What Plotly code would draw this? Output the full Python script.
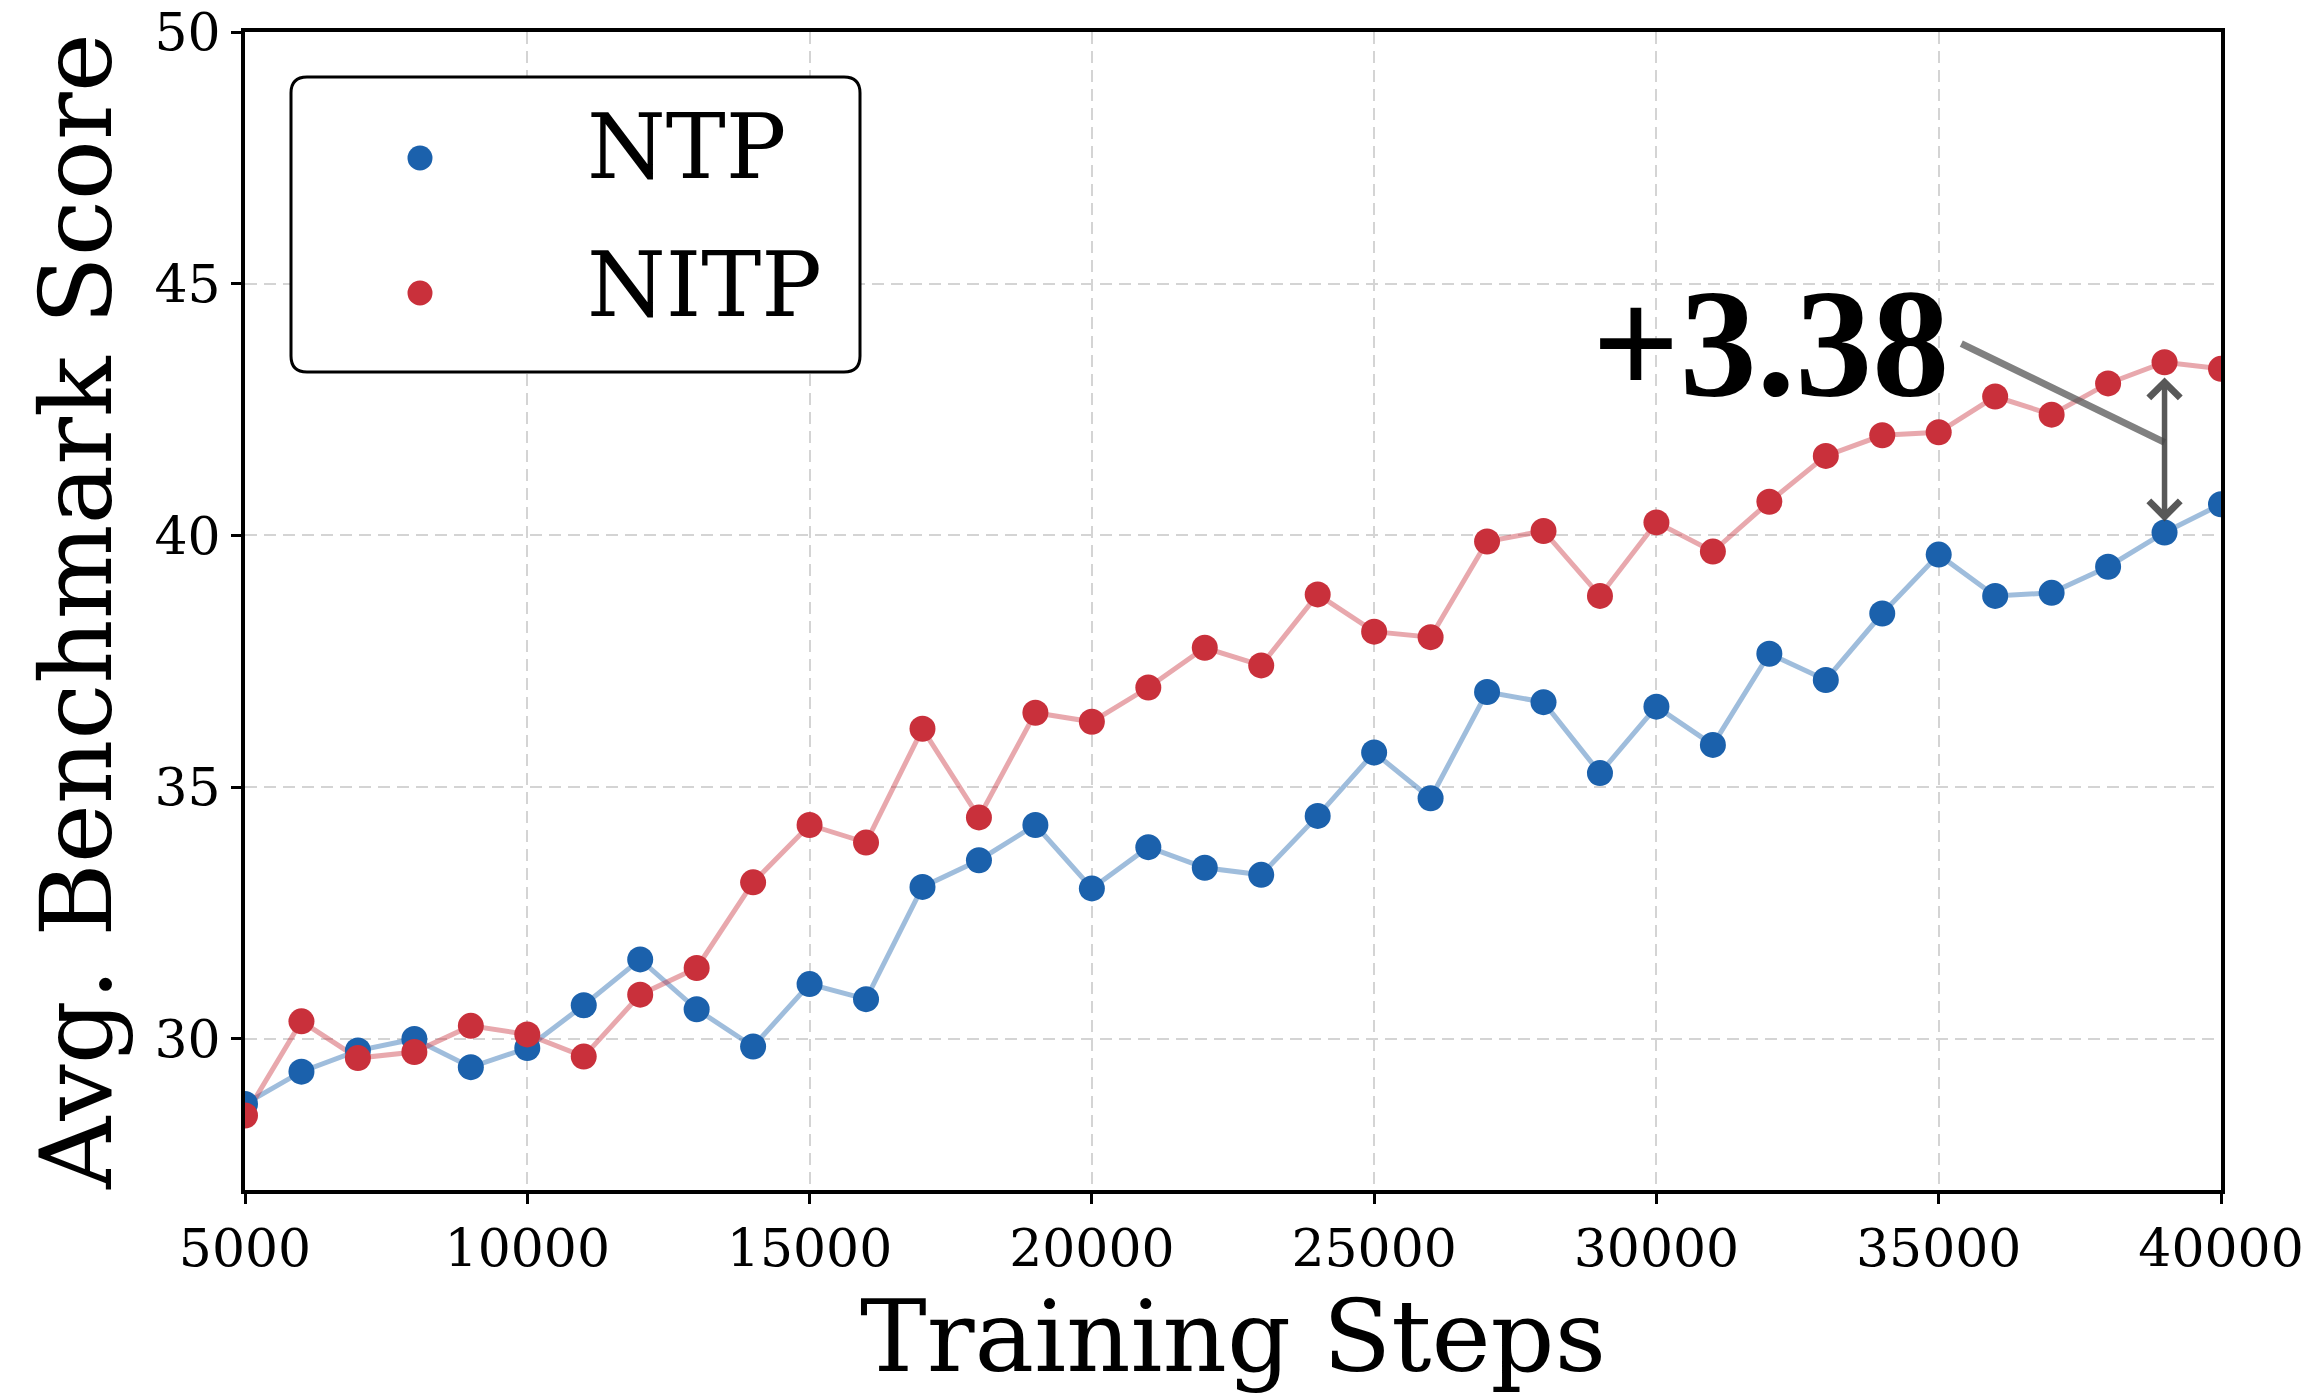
import plotly.graph_objects as go

# ---------------- data ----------------
steps = [5000, 6000, 7000, 8000, 9000, 10000, 11000, 12000, 13000, 14000,
         15000, 16000, 17000, 18000, 19000, 20000, 21000, 22000, 23000, 24000,
         25000, 26000, 27000, 28000, 29000, 30000, 31000, 32000, 33000, 34000,
         35000, 36000, 37000, 38000, 39000, 40000]
ntp = [28.71, 29.35, 29.77, 30.00, 29.44, 29.82, 30.67, 31.58, 30.59, 29.85,
       31.09, 30.79, 33.02, 33.55, 34.25, 32.99, 33.81, 33.40, 33.26, 34.43,
       35.69, 34.78, 36.89, 36.69, 35.28, 36.60, 35.84, 37.65, 37.13, 38.45,
       39.62, 38.80, 38.86, 39.38, 40.06, 40.62]
nitp = [28.48, 30.35, 29.62, 29.74, 30.26, 30.09, 29.65, 30.88, 31.41, 33.11,
        34.25, 33.90, 36.16, 34.40, 36.48, 36.30, 36.98, 37.77, 37.42, 38.83,
        38.09, 37.98, 39.88, 40.09, 38.80, 40.26, 39.68, 40.67, 41.58, 41.99,
        42.05, 42.76, 42.40, 43.02, 43.44, 43.31]
series_names = ["NTP", "NITP"]
x_ticks = [5000, 10000, 15000, 20000, 25000, 30000, 35000, 40000]
y_ticks = [30, 35, 40, 45, 50]
gap_step = 39000

# ---------------- style ----------------
W, H = 2316, 1397
ML, MR, MT, MB = 245, 95, 32, 207
BLUE = "#1b61ac"
RED = "#c9303b"
BLUE_LINE = "rgba(27,97,172,0.42)"
RED_LINE = "rgba(201,48,59,0.42)"
FONT = "DejaVu Serif"

fig = go.Figure()
for ys, lc in [(ntp, BLUE_LINE), (nitp, RED_LINE)]:
    fig.add_trace(go.Scatter(x=steps, y=ys, mode="lines", line=dict(color=lc, width=5),
                             showlegend=False, hoverinfo="skip"))
for ys, mc, name in [(ntp, BLUE, series_names[0]), (nitp, RED, series_names[1])]:
    fig.add_trace(go.Scatter(x=steps, y=ys, mode="markers", name=name,
                             marker=dict(color=mc, size=26, line=dict(width=0)),
                             showlegend=False))

# ---------------- annotation: gap ----------------
gi = steps.index(gap_step)
gap = nitp[gi] - ntp[gi]
fig.add_annotation(x=gap_step, y=ntp[gi] + 0.22, ax=gap_step, ay=nitp[gi] - 0.27,
                   xref="x", yref="y", axref="x", ayref="y", text="",
                   showarrow=True, arrowhead=4, startarrowhead=4, arrowside="end+start",
                   arrowwidth=5.5, arrowsize=1.1, startarrowsize=1.1,
                   arrowcolor="rgba(70,70,70,0.9)", standoff=0, startstandoff=0)
fig.add_shape(type="line", xref="x", yref="y", x0=35400, y0=43.81, x1=gap_step,
              y1=(nitp[gi] + ntp[gi]) / 2 + 0.1,
              line=dict(color="rgba(85,85,85,0.75)", width=7))
fig.add_annotation(x=32020, y=43.82, xref="x", yref="y", text=f"<b>+{gap:.2f}</b>",
                   showarrow=False, xanchor="center", yanchor="middle",
                   font=dict(family="Liberation Serif", size=154, color="black"))

# ---------------- manual legend ----------------
pw, ph = W - ML - MR, H - MT - MB


def px(x):
    return (x - ML) / pw


def py(y):
    return (H - MB - y) / ph


bx0, bx1, by0, by1, r = 291, 860, 77, 372, 16
path = (f"M {px(bx0 + r)},{py(by0)} L {px(bx1 - r)},{py(by0)} "
        f"Q {px(bx1)},{py(by0)} {px(bx1)},{py(by0 + r)} "
        f"L {px(bx1)},{py(by1 - r)} Q {px(bx1)},{py(by1)} {px(bx1 - r)},{py(by1)} "
        f"L {px(bx0 + r)},{py(by1)} Q {px(bx0)},{py(by1)} {px(bx0)},{py(by1 - r)} "
        f"L {px(bx0)},{py(by0 + r)} Q {px(bx0)},{py(by0)} {px(bx0 + r)},{py(by0)} Z")
fig.add_shape(type="path", xref="paper", yref="paper", path=path,
              fillcolor="white", line=dict(color="black", width=3), layer="above")
for cy, ty, col, name in [(158, 146, BLUE, series_names[0]), (293, 284, RED, series_names[1])]:
    rr = 12.5
    fig.add_shape(type="circle", xref="paper", yref="paper",
                  x0=px(420 - rr), x1=px(420 + rr), y0=py(cy + rr), y1=py(cy - rr),
                  fillcolor=col, line=dict(width=0), layer="above")
    fig.add_annotation(xref="paper", yref="paper", x=px(585), y=py(ty), text=name,
                       showarrow=False, xanchor="left", yanchor="middle",
                       font=dict(family=FONT, size=90, color="black"))

axis_common = dict(showline=True, linecolor="black", linewidth=4, mirror=True,
                   ticks="outside", ticklen=10, tickwidth=2.5, tickcolor="black",
                   showgrid=True, gridcolor="#d4d4d4", gridwidth=2.2, griddash="12px,7px",
                   zeroline=False, automargin=False,
                   tickfont=dict(family=FONT, size=52, color="black"))

fig.update_layout(
    width=W, height=H,
    margin=dict(l=ML, r=MR, t=MT, b=MB),
    paper_bgcolor="white", plot_bgcolor="white",
    showlegend=False,
    xaxis=dict(range=[5000, 40000], tickvals=x_ticks, ticktext=[str(v) for v in x_ticks],
               title=dict(text="Training Steps", font=dict(family=FONT, size=100, color="black"),
                          standoff=0),
               **axis_common),
    yaxis=dict(range=[27, 50], tickvals=y_ticks, ticktext=[str(v) for v in y_ticks],
               title=dict(text="Avg. Benchmark Score", font=dict(family=FONT, size=100, color="black"),
                          standoff=10),
               **axis_common),
)

fig.write_html("out.html")
